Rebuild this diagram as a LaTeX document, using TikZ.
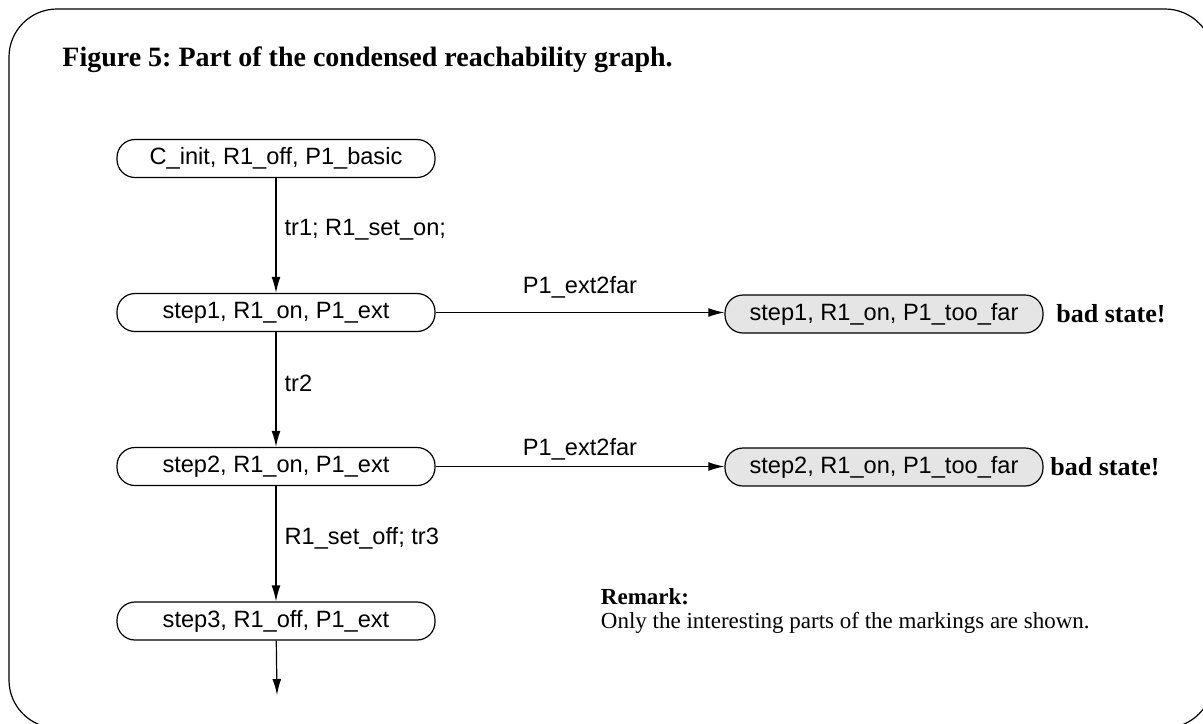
\documentclass[tikz,border=0pt]{standalone}
\usepackage{fontspec}
\setmainfont{Liberation Serif}
\setsansfont{Liberation Sans}
\usetikzlibrary{arrows.meta}
\frenchspacing
\begin{document}
\begin{tikzpicture}[x=0.5pt,y=-0.5pt,
  state/.style={draw, line width=0.6pt, rounded corners=9pt,
    minimum width=159pt, minimum height=19pt, inner sep=0pt,
    font=\sffamily\fontsize{11.8}{14}\selectfont},
  badstate/.style={state, fill=black!10},
  flow/.style={line width=0.6pt, -{Latex[length=8pt,width=4.4pt]}},
  elabel/.style={font=\sffamily\fontsize{11.8}{14}\selectfont, inner sep=0pt},
  caption/.style={font=\rmfamily\bfseries\fontsize{14}{16}\selectfont, inner sep=0pt},
  warn/.style={font=\rmfamily\bfseries\fontsize{13}{15}\selectfont, inner sep=0pt},
  notehead/.style={font=\rmfamily\bfseries\fontsize{11.5}{13}\selectfont, inner sep=0pt},
  notetext/.style={font=\rmfamily\fontsize{11.5}{13}\selectfont, inner sep=0pt}]
\useasboundingbox (0,0) rectangle (1203,723);
\clip (0,0) rectangle (1203,723);
% outer frame
\draw[line width=0.6pt, rounded corners=24pt] (9,9) rectangle (1213,728);
% caption
\node[caption, anchor=base west] (title) at (62,66) {Figure 5: Part of the condensed reachability graph.};
% states of the graph
\node[state] (s0) at (276,158.5) {C\_init, R1\_off, P1\_basic};
\node[state] (s1) at (276,312.5) {step1, R1\_on, P1\_ext};
\node[state] (s2) at (276,466.5) {step2, R1\_on, P1\_ext};
\node[state] (s3) at (276,621) {step3, R1\_off, P1\_ext};
\node[badstate] (b1) at (884,314) {step1, R1\_on, P1\_too\_far};
\node[badstate] (b2) at (884,467) {step2, R1\_on, P1\_too\_far};
\node[warn, anchor=west] (t1) at (1056,314) {bad state!};
\node[warn, anchor=west] (t2) at (1050,467) {bad state!};
\coordinate (out) at (277,695);
% transitions
\draw[flow] (s0) -- node[elabel, anchor=west, pos=0.45, xshift=4pt] {tr1; R1\_set\_on;} (s1);
\draw[flow] (s1) -- node[elabel, anchor=west, pos=0.45, xshift=4pt] {tr2} (s2);
\draw[flow] (s2) -- node[elabel, anchor=west, pos=0.45, xshift=4pt] {R1\_set\_off; tr3} (s3);
\draw[flow] (s3) -- (out);
\draw[flow] (s1.east) -- node[elabel, anchor=south, yshift=7pt] {P1\_ext2far} (b1.west |- s1.east);
\draw[flow] (s2.east) -- node[elabel, anchor=south, yshift=3pt] {P1\_ext2far} (b2.west |- s2.east);
% note, its line ending a little right of the boxes
\node[notetext, anchor=base east] (remtext) at (1090,628) {Only the interesting parts of the markings are shown.};
\node[notehead, anchor=base west] (rem) at (remtext.west |- 0,604) {Remark:};
\end{tikzpicture}
\end{document}
